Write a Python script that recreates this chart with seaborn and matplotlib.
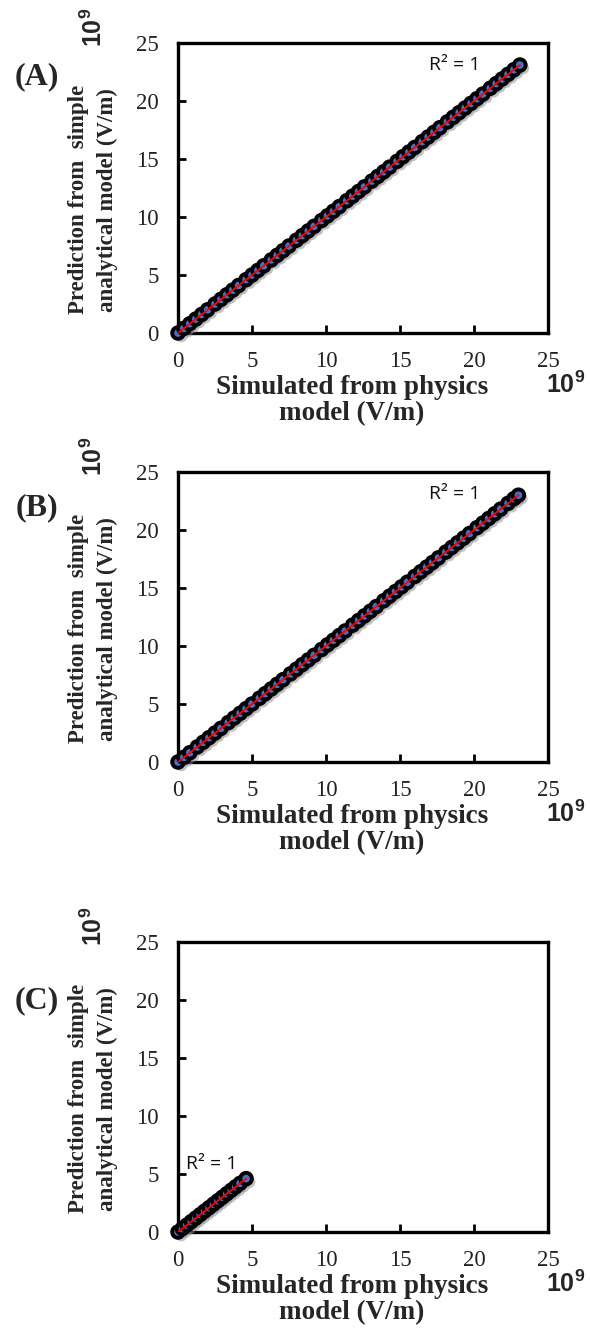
import matplotlib
matplotlib.use("Agg")
import matplotlib.pyplot as plt
import matplotlib.patheffects as pe
import seaborn as sns
import pandas as pd

# Simulated (physics model) vs predicted (analytical model) field, units of 1e9 V/m
sim_a = [0.0, 0.4, 0.8, 1.2, 1.6, 2.0, 2.5, 2.9, 3.3, 3.7, 4.1, 4.6, 5.0, 5.4, 5.8,
         6.3, 6.7, 7.1, 7.5, 8.0, 8.4, 8.8, 9.2, 9.7, 10.1, 10.5, 10.9, 11.4, 11.8,
         12.2, 12.6, 13.1, 13.5, 13.9, 14.3, 14.8, 15.2, 15.6, 16.0, 16.5, 16.9,
         17.3, 17.7, 18.2, 18.6, 19.0, 19.4, 19.8, 20.2, 20.6, 21.1, 21.5, 21.9,
         22.3, 22.7, 23.1]
pred_a = [0.0, 0.4, 0.8, 1.2, 1.6, 2.0, 2.5, 2.9, 3.3, 3.7, 4.1, 4.6, 5.0, 5.4, 5.8,
          6.3, 6.7, 7.1, 7.5, 8.0, 8.4, 8.8, 9.2, 9.7, 10.1, 10.5, 10.9, 11.4, 11.8,
          12.2, 12.6, 13.1, 13.5, 13.9, 14.3, 14.8, 15.2, 15.6, 16.0, 16.5, 16.9,
          17.3, 17.7, 18.2, 18.6, 19.0, 19.4, 19.8, 20.2, 20.6, 21.1, 21.5, 21.9,
          22.3, 22.7, 23.1]

sim_b = [0.0, 0.4, 0.8, 1.3, 1.7, 2.1, 2.5, 2.9, 3.4, 3.8, 4.2, 4.6, 5.0, 5.5, 5.9,
         6.3, 6.7, 7.1, 7.6, 8.0, 8.4, 8.8, 9.2, 9.7, 10.1, 10.5, 10.9, 11.3, 11.8,
         12.2, 12.6, 13.0, 13.4, 13.9, 14.3, 14.7, 15.1, 15.5, 16.0, 16.4, 16.8,
         17.2, 17.6, 18.1, 18.5, 18.9, 19.3, 19.7, 20.2, 20.6, 21.0, 21.4, 21.8,
         22.3, 22.7, 23.0]
pred_b = [0.0, 0.4, 0.8, 1.3, 1.7, 2.1, 2.5, 2.9, 3.4, 3.8, 4.2, 4.6, 5.0, 5.5, 5.9,
          6.3, 6.7, 7.1, 7.6, 8.0, 8.4, 8.8, 9.2, 9.7, 10.1, 10.5, 10.9, 11.3, 11.8,
          12.2, 12.6, 13.0, 13.4, 13.9, 14.3, 14.7, 15.1, 15.5, 16.0, 16.4, 16.8,
          17.2, 17.6, 18.1, 18.5, 18.9, 19.3, 19.7, 20.2, 20.6, 21.0, 21.4, 21.8,
          22.3, 22.7, 23.0]

sim_c = [0.0, 0.3, 0.6, 0.9, 1.2, 1.5, 1.8, 2.1, 2.4, 2.7, 3.0, 3.3, 3.6, 3.9, 4.2, 4.6]
pred_c = [0.0, 0.3, 0.6, 0.9, 1.2, 1.5, 1.8, 2.1, 2.4, 2.7, 3.0, 3.3, 3.6, 3.9, 4.2, 4.6]

panel_labels = ["(A)", "(B)", "(C)"]
r2_labels = ["R² = 1", "R² = 1", "R² = 1"]
r2_positions = [(18.7, 23.1), (18.7, 23.1), (2.3, 5.9)]
ticks = [0, 5, 10, 15, 20, 25]
xlabel = "Simulated from physics\nmodel (V/m)"
ylabel = "Prediction from  simple\nanalytical model (V/m)"
scale_label = "10$^{\\mathbf{9}}$"

sns.set_theme(style="white")
plt.rcParams["font.family"] = ["Liberation Serif", "DejaVu Serif"]
plt.rcParams["mathtext.fontset"] = "custom"
plt.rcParams["mathtext.bf"] = "Liberation Sans:bold"
plt.rcParams["mathtext.rm"] = "Liberation Sans"

W, H = 590, 1338
fig = plt.figure(figsize=(W / 100, H / 100), dpi=100)

# axes boxes in pixels: (left, top, right, bottom)
boxes = [(178, 43, 548, 333), (178, 472, 548, 762), (178, 942, 548, 1232)]
label_dy = [34, 36, 59]
datasets = [(sim_a, pred_a), (sim_b, pred_b), (sim_c, pred_c)]

shadow = [pe.SimplePatchShadow(offset=(2.5, -2.5), shadow_rgbFace="#888888", alpha=0.5),
          pe.Normal()]

for i, ((sx, sy), (l, t, r, b)) in enumerate(zip(datasets, boxes)):
    ax = fig.add_axes([l / W, (H - b) / H, (r - l) / W, (b - t) / H])
    df = pd.DataFrame({"sim": sx, "pred": sy})
    sns.regplot(data=df, x="sim", y="pred", ax=ax, ci=None, truncate=True,
                scatter_kws=dict(s=70, color="#4472C4", edgecolors="black",
                                 linewidths=2.8, alpha=1, clip_on=False, zorder=3,
                                 path_effects=shadow),
                line_kws=dict(color="#FF0000", lw=1.3, zorder=4))
    ax.set_xlim(0, 25)
    ax.set_ylim(0, 25)
    ax.set_xticks(ticks)
    ax.set_yticks(ticks)
    ax.set_xticklabels([str(v) for v in ticks])
    ax.set_yticklabels([str(v) for v in ticks])
    for s in ax.spines.values():
        s.set_color("black")
        s.set_linewidth(2.4)
    ax.tick_params(axis="both", which="major", direction="in", length=6, width=2,
                   color="black", labelsize=16.5, labelcolor="#222222")
    ax.tick_params(axis="x", pad=13, bottom=True, top=False)
    ax.tick_params(axis="y", pad=14, left=True, right=False)
    ax.set_xlabel(xlabel, fontsize=19.5, fontweight="bold", linespacing=1.05)
    ax.set_ylabel(ylabel, fontsize=16.5, fontweight="bold", linespacing=1.45)
    ax.xaxis.set_label_coords(0.47, -0.145, transform=ax.transAxes)
    ax.xaxis.label.set_va("top")
    ax.yaxis.set_label_coords(-0.23, 0.46, transform=ax.transAxes)
    ax.yaxis.label.set_va("center")
    ax.grid(False)

    rx, ry = r2_positions[i]
    ax.text(rx, ry, r2_labels[i], ha="center", va="center", fontsize=14,
            family=["Open Sans", "DejaVu Sans"], color="#111111")

    fig.text(37 / W, 1 - (t + label_dy[i]) / H, panel_labels[i], ha="center",
             va="center", fontsize=23, fontweight="bold")
    fig.text(94 / W, 1 - (t - 16) / H, scale_label, ha="center", va="center",
             rotation=90, fontsize=18, fontweight="bold",
             family=["Liberation Sans", "DejaVu Sans"])
    fig.text(566 / W, 1 - (b + 52) / H, scale_label, ha="center", va="center",
             fontsize=18, fontweight="bold", family=["Liberation Sans", "DejaVu Sans"])

fig.savefig("out.png", dpi=100, facecolor="white")
